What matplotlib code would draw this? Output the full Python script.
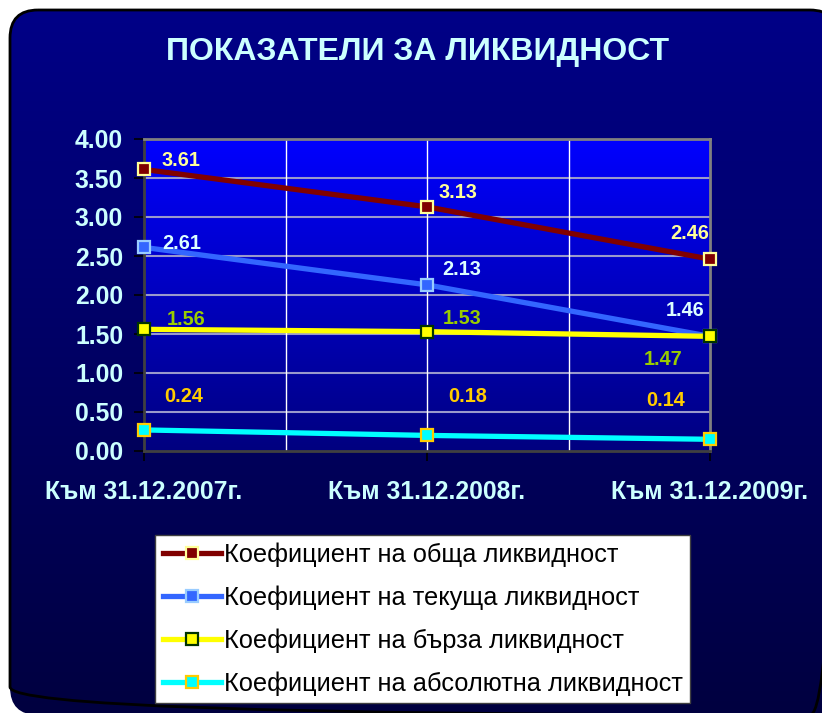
"""Liquidity ratios chart."""

import matplotlib

matplotlib.use("Agg", force=True)
import matplotlib.pyplot as plt
import numpy as np
from matplotlib.patches import FancyBboxPatch

categories = ["Към 31.12.2007г.", "Към 31.12.2008г.", "Към 31.12.2009г."]
series_names = [
    "Коефициент на обща ликвидност",
    "Коефициент на текуща ликвидност",
    "Коефициент на бърза ликвидност",
    "Коефициент на абсолютна ликвидност",
]
total_ratio = [3.61, 3.13, 2.46]
current_ratio = [2.61, 2.13, 1.47]
quick_ratio = [1.56, 1.53, 1.47]
absolute_ratio = [0.27, 0.20, 0.15]
label_texts = [
    ["3.61", "3.13", "2.46"],
    ["2.61", "2.13", "1.46"],
    ["1.56", "1.53", "1.47"],
    ["0.24", "0.18", "0.14"],
]
y_ticks = [0, 0.5, 1, 1.5, 2, 2.5, 3, 3.5, 4]

# styles: line colour, marker face, marker edge, label colour
styles = [
    ("#800000", "#800000", "#FFFF99", "#FFFF99"),
    ("#3366FF", "#3366FF", "#99CCFF", "#DDFFFF"),
    ("#FFFF00", "#FFFF00", "#003300", "#99CC00"),
    ("#00FFFF", "#00FFFF", "#FFCC00", "#FFCC00"),
]
# label offsets in pixels (dx, dy downwards)
offsets = [
    [(37, -9), (31, -14), (-20, -26)],
    [(38, -4), (35, -15), (-25, -26)],
    [(42, -10), (35, -13), (-47, 23)],
    [(40, -33), (41, -39), (-44, -39)],
]

W, H = 822, 713
fig = plt.figure(figsize=(W / 100, H / 100), dpi=100)
fig.patch.set_facecolor("white")
plt.rcParams["font.family"] = ["Liberation Sans", "DejaVu Sans"]

# rounded navy background
bg = fig.add_axes([0, 0, 1, 1], zorder=-5)
bg.set_xlim(0, W)
bg.set_ylim(H, 0)
bg.axis("off")
box = FancyBboxPatch((10, 10), 828, 705, boxstyle="round,pad=0,rounding_size=28",
                     facecolor="none", edgecolor="black", linewidth=2.0)
bg.add_patch(box)
grad = np.linspace(0, 1, 256).reshape(-1, 1)
bg_cmap = matplotlib.colors.LinearSegmentedColormap.from_list(
    "bgc", [(0, 0, 0.53), (0, 0, 0.25)])
img = bg.imshow(grad, extent=(10, 838, 715, 10), aspect="auto", cmap=bg_cmap,
                origin="upper")
img.set_clip_path(box)

fig.text(0.508, 1 - 52 / H, "ПОКАЗАТЕЛИ ЗА ЛИКВИДНОСТ", ha="center", va="center",
         color="#CCFFFF", fontsize=23, fontweight="bold")

ax = fig.add_axes([144 / W, 1 - 451 / H, 566 / W, 312 / H])
ax.set_facecolor("none")
pa_cmap = matplotlib.colors.LinearSegmentedColormap.from_list(
    "pac", [(0, 0, 1.0), (0, 0, 0.75), (0, 0, 0.5)])
ax.imshow(grad, extent=(0, 2, 0, 4), aspect="auto", cmap=pa_cmap, origin="upper",
          zorder=0)

x = np.arange(len(categories))
all_series = [total_ratio, current_ratio, quick_ratio, absolute_ratio]
for i, (vals, name) in enumerate(zip(all_series, series_names)):
    lc, mf, me, tc = styles[i]
    ax.plot(x, vals, color=lc, linewidth=3.8, marker="s", markersize=8.5,
            markerfacecolor=mf, markeredgecolor=me, markeredgewidth=1.6,
            label=name, zorder=3 + i * 0.1, clip_on=False)
    for j, v in enumerate(vals):
        dx, dy = offsets[i][j]
        ax.annotate(label_texts[i][j], (x[j], v), xytext=(dx * 0.72, -dy * 0.72),
                    textcoords="offset points", ha="center", va="center",
                    color=tc, fontsize=14.3, fontweight="bold", zorder=6)

ax.set_xlim(0, 2)
ax.set_ylim(0, 4)
ax.set_yticks(y_ticks)
ax.set_yticklabels([f"{t:.2f}" for t in y_ticks])
ax.set_xticks(x)
ax.set_xticklabels(categories)
for gy in y_ticks[1:-1]:
    ax.axhline(gy, color="#9999CC", linewidth=1.5, zorder=1)
for gx in [0.5, 1, 1.5]:
    ax.axvline(gx, color="white", linewidth=1.0, zorder=1)
ax.tick_params(axis="y", length=7, width=1.2, color="black", pad=8,
               labelsize=17.8, labelcolor="#CCFFFF")
ax.tick_params(axis="x", length=7, width=1.2, color="black", pad=14,
               labelsize=17.8, labelcolor="#CCFFFF")
for lab in ax.get_xticklabels() + ax.get_yticklabels():
    lab.set_fontweight("bold")
for side in ["top", "right"]:
    ax.spines[side].set_color("#808080")
    ax.spines[side].set_linewidth(2)
for side in ["left", "bottom"]:
    ax.spines[side].set_color("#404040")
    ax.spines[side].set_linewidth(2)

leg = fig.legend(loc="upper left", bbox_to_anchor=(155 / W, 1 - 535 / H),
                 fontsize=18.3, frameon=True, fancybox=False, framealpha=1,
                 edgecolor="#404040", facecolor="white", handlelength=2.3,
                 handletextpad=0.1, labelspacing=0.72, borderpad=0.3,
                 borderaxespad=0)
leg.get_frame().set_linewidth(1.0)
for t in leg.get_texts():
    t.set_color("black")

fig.savefig("out.png", dpi=100, facecolor=fig.get_facecolor())
plt.close(fig)
